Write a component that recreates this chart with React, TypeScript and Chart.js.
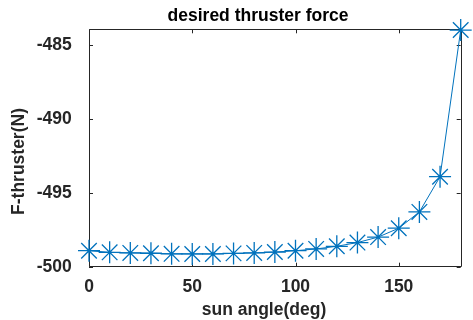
import React, { useEffect, useRef } from 'react';
import { Chart, registerables } from 'chart.js';

Chart.register(...registerables);

const SUN_ANGLE = [0, 10, 20, 30, 40, 50, 60, 70, 80, 90, 100, 110, 120, 130, 140, 150, 160, 170, 180];
const FORCE = [
  -498.92, -499.03, -499.07, -499.09, -499.13, -499.14, -499.14, -499.1, -499.07, -499.01,
  -498.92, -498.8, -498.62, -498.37, -498.0, -497.4, -496.3, -493.92, -484.01,
];
const X_TICKS = [0, 50, 100, 150];
const Y_TICKS = [-500, -495, -490, -485];
const TITLE = 'desired thruster force';
const X_LABEL = 'sun angle(deg)';
const Y_LABEL = 'F-thruster(N)';

const FONT = '"Liberation Sans", Arial, Helvetica, sans-serif';
const AXIS_COLOR = '#262626';
const LINE_COLOR = '#0072BD';

const framePlugin = {
  id: 'matlabFrame',
  beforeDatasetsDraw(chart: any) {
    const { ctx, chartArea } = chart;
    const { left, right, top, bottom } = chartArea;
    const xs = chart.scales.x;
    const ys = chart.scales.y;
    const tl = 4;
    ctx.save();
    ctx.strokeStyle = AXIS_COLOR;
    ctx.lineWidth = 1;
    ctx.beginPath();
    ctx.rect(Math.round(left) + 0.5, Math.round(top) + 0.5, Math.round(right - left), Math.round(bottom - top));
    ctx.stroke();
    ctx.beginPath();
    X_TICKS.forEach((v) => {
      const px = Math.round(xs.getPixelForValue(v)) + 0.5;
      ctx.moveTo(px, bottom);
      ctx.lineTo(px, bottom - tl);
      ctx.moveTo(px, top);
      ctx.lineTo(px, top + tl);
    });
    Y_TICKS.forEach((v) => {
      const py = Math.round(ys.getPixelForValue(v)) + 0.5;
      ctx.moveTo(left, py);
      ctx.lineTo(left + tl, py);
      ctx.moveTo(right, py);
      ctx.lineTo(right - tl, py);
    });
    ctx.stroke();
    ctx.restore();
  },
  afterDraw(chart: any) {
    const { ctx } = chart;
    ctx.save();
    ctx.font = `bold 17.5px ${FONT}`;
    ctx.textAlign = 'center';
    ctx.textBaseline = 'alphabetic';
    ctx.fillStyle = '#000000';
    ctx.fillText(TITLE, 258, 21);
    ctx.fillStyle = AXIS_COLOR;
    ctx.fillText(X_LABEL, 264, 314.5);
    ctx.translate(24, 161.5);
    ctx.rotate(-Math.PI / 2);
    ctx.fillText(Y_LABEL, 0, 0);
    ctx.restore();
  },
};

export default function App() {
  const canvasRef = useRef<HTMLCanvasElement | null>(null);

  useEffect(() => {
    document.body.style.margin = '0';
    const canvas = canvasRef.current;
    if (!canvas) return;
    const chart = new Chart(canvas, {
      type: 'line',
      data: {
        datasets: [
          {
            data: SUN_ANGLE.map((x, i) => ({ x, y: FORCE[i] })),
            borderColor: LINE_COLOR,
            backgroundColor: LINE_COLOR,
            borderWidth: 1,
            pointStyle: 'star',
            pointRadius: 11,
            pointHoverRadius: 11,
            pointBorderColor: LINE_COLOR,
            pointBorderWidth: 1.3,
            tension: 0,
            fill: false,
            clip: false as any,
          },
        ],
      },
      options: {
        responsive: false,
        animation: false,
        devicePixelRatio: 1,
        layout: { padding: { top: 29.3, right: 8.7, left: 0, bottom: 0 } },
        plugins: {
          legend: { display: false },
          title: { display: false },
          tooltip: { enabled: false },
        },
        scales: {
          x: {
            type: 'linear',
            min: 0,
            max: 180,
            grid: { display: false, drawTicks: false },
            border: { display: false },
            afterFit: (scale: any) => {
              scale.height = 53.3;
            },
            afterBuildTicks: (scale: any) => {
              scale.ticks = X_TICKS.map((v) => ({ value: v }));
            },
            ticks: {
              color: AXIS_COLOR,
              font: { family: FONT, size: 17.5, weight: 'bold' },
              padding: 10,
              maxRotation: 0,
              autoSkip: false,
            },
          },
          y: {
            type: 'linear',
            min: -500,
            max: -483.96,
            grid: { display: false, drawTicks: false },
            border: { display: false },
            afterFit: (scale: any) => {
              scale.width = 89;
            },
            afterBuildTicks: (scale: any) => {
              scale.ticks = Y_TICKS.map((v) => ({ value: v }));
            },
            ticks: {
              color: AXIS_COLOR,
              font: { family: FONT, size: 17.5, weight: 'bold' },
              padding: 17.3,
              autoSkip: false,
            },
          },
        },
      },
      plugins: [framePlugin],
    });
    return () => chart.destroy();
  }, []);

  return (
    <div style={{ width: 473, height: 320, background: '#ffffff' }}>
      <canvas ref={canvasRef} width={473} height={320} style={{ display: 'block' }} />
    </div>
  );
}
